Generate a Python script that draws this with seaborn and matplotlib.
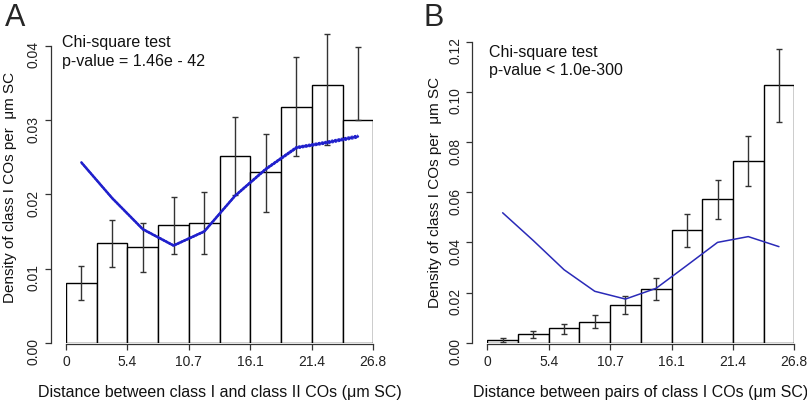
import numpy as np
import matplotlib
matplotlib.use('Agg')
import matplotlib.pyplot as plt
import seaborn as sns
import pandas as pd

# 分箱 (µm SC)
bin_edges = [0, 2.68, 5.36, 8.04, 10.72, 13.4, 16.08, 18.76, 21.44, 24.12, 26.8]
bin_centers = [1.34, 4.02, 6.70, 9.38, 12.06, 14.74, 17.42, 20.10, 22.78, 25.46]
tick_pos = [0, 5.36, 10.72, 16.08, 21.44, 26.8]
tick_labels = ['0', '5.4', '10.7', '16.1', '21.4', '26.8']

# A: class I - class II
a_density = [0.0080, 0.0135, 0.0129, 0.0159, 0.0161, 0.0252, 0.0230, 0.0318, 0.0347, 0.0300]
a_err_hi = [0.0103, 0.0166, 0.0162, 0.0196, 0.0203, 0.0304, 0.0282, 0.0385, 0.0416, 0.0399]
a_err_lo = [0.0057, 0.0102, 0.0095, 0.0120, 0.0120, 0.0199, 0.0176, 0.0252, 0.0266, 0.0300]
a_expected = [0.0243, 0.0195, 0.0153, 0.0131, 0.0150, 0.0198, 0.0234, 0.0263, 0.0270, 0.0278]
a_exp_band = [0.0001, 0.0001, 0.0001, 0.0001, 0.0001, 0.00012, 0.00014, 0.00016, 0.00018, 0.0002]

# B: class I pairs
b_density = [0.0010, 0.0035, 0.0057, 0.0084, 0.0149, 0.0215, 0.0449, 0.0572, 0.0723, 0.1026]
b_err_hi = [0.00175, 0.0048, 0.0076, 0.0109, 0.0185, 0.0257, 0.0513, 0.0650, 0.0823, 0.1172]
b_err_lo = [0.0002, 0.0020, 0.0035, 0.0057, 0.0113, 0.0169, 0.0382, 0.0492, 0.0624, 0.0880]
b_expected = [0.0518, 0.0407, 0.0291, 0.0205, 0.0174, 0.0217, 0.0308, 0.0400, 0.0423, 0.0383]

sns.set_style('ticks')
plt.rcParams['font.family'] = ['Liberation Sans', 'DejaVu Sans']

fig = plt.figure(figsize=(8.07, 4.02), dpi=100)
axA = fig.add_axes([66 / 807, 0.145, 307.3 / 807, 0.775])
axB = fig.add_axes([487.3 / 807, 0.145, 307 / 807, 0.755])


def draw_panel(ax, density, err_lo, err_hi, expected, yticks, ylabels, ylim, xlabel,
               line_color, line_width, ylab_x, band=None):
    df = pd.DataFrame({'x': bin_centers, 'density': density, 'expected': expected})
    sns.histplot(data=df, x='x', weights='density', bins=bin_edges, ax=ax,
                 color='white', edgecolor='black', linewidth=1.0, alpha=1, zorder=1)
    lo = np.array(density) - np.array(err_lo)
    hi = np.array(err_hi) - np.array(density)
    ax.errorbar(bin_centers, density, yerr=[lo, hi], fmt='none', ecolor='#333333',
                elinewidth=1.0, capsize=2, capthick=1.0, zorder=3)
    sns.lineplot(data=df, x='x', y='expected', ax=ax, color=line_color,
                 linewidth=line_width, zorder=4)
    if band is not None:
        ax.plot(bin_centers, np.array(expected) + np.array(band), color=line_color,
                linewidth=0.8, linestyle=(0, (2, 1)), zorder=4)
        ax.plot(bin_centers, np.array(expected) - np.array(band), color=line_color,
                linewidth=0.8, linestyle=(0, (2, 1)), zorder=4)
    ax.set_xlim(0, 26.8)
    ax.set_ylim(*ylim)
    ax.set_xticks(tick_pos)
    ax.set_xticklabels(tick_labels, fontsize=10.5)
    ax.set_yticks(yticks)
    ax.set_yticklabels(ylabels, fontsize=10.5)
    ax.tick_params(axis='y', labelrotation=90)
    for lab in ax.get_yticklabels():
        lab.set_va('center')
    ax.tick_params(axis='both', length=4, width=0.9, color='#333333', pad=3,
                   labelcolor='#222222')
    ax.spines['top'].set_visible(False)
    ax.spines['right'].set_visible(False)
    ax.spines['left'].set_position(('outward', 11))
    ax.spines['bottom'].set_position(('outward', 1))
    ax.spines['left'].set_bounds(yticks[0], yticks[-1])
    ax.spines['bottom'].set_bounds(0, 26.8)
    for s in ['left', 'bottom']:
        ax.spines[s].set_linewidth(0.9)
        ax.spines[s].set_color('#333333')
    ax.set_xlabel(xlabel, fontsize=11.5, labelpad=12, color='#111111')
    ax.set_ylabel('Density of class I COs per  μm SC', fontsize=11, color='#111111')
    ax.yaxis.set_label_coords(ylab_x, 0.5)
    ax.grid(False)


draw_panel(axA, a_density, a_err_lo, a_err_hi, a_expected,
           [0, 0.01, 0.02, 0.03, 0.04], ['0.00', '0.01', '0.02', '0.03', '0.04'],
           (0, 0.042), 'Distance between class I and class II COs (μm SC)',
           '#2020cc', 1.8, (17 - 66) / 307.3, band=a_exp_band)
draw_panel(axB, b_density, b_err_lo, b_err_hi, b_expected,
           [0, 0.02, 0.04, 0.06, 0.08, 0.10, 0.12],
           ['0.00', '0.02', '0.04', '0.06', '0.08', '0.10', '0.12'],
           (0, 0.121), 'Distance between pairs of class I COs (μm SC)',
           '#2a2ab8', 1.1, (442 - 487.3) / 307)

axA.text(-0.013, 0.99, 'Chi-square test\np-value = 1.46e - 42', transform=axA.transAxes,
         fontsize=11.5, va='top', ha='left', linespacing=1.3, color='#111111')
axB.text(0.005, 0.985, 'Chi-square test\np-value < 1.0e-300', transform=axB.transAxes,
         fontsize=11.5, va='top', ha='left', linespacing=1.3, color='#111111')

fig.text(5 / 807, 1 - 3 / 402, 'A', fontsize=22, va='top', ha='left')
fig.text(423 / 807, 1 - 3 / 402, 'B', fontsize=22, va='top', ha='left')

fig.savefig('out.png', dpi=100)
